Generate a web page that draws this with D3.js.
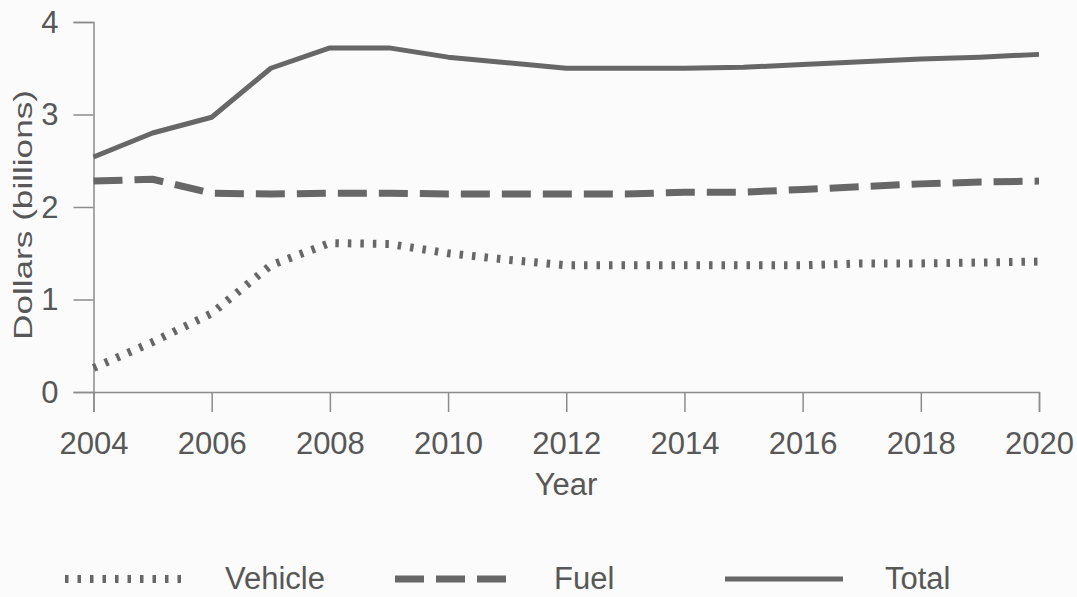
<!DOCTYPE html>
<html>
<head>
<meta charset="utf-8">
<script src="https://cdn.jsdelivr.net/npm/d3@7"></script>
<style>
  html, body { margin: 0; padding: 0; background: #fbfbfb; }
  svg { display: block; }
  text { font-family: "Liberation Sans", Arial, sans-serif; fill: #575757; }
</style>
</head>
<body>
<svg id="chart" width="1077" height="597"></svg>
<script>
const years = [2004,2005,2006,2007,2008,2009,2010,2011,2012,2013,2014,2015,2016,2017,2018,2019,2020];
const vehicle = [0.26,0.54,0.85,1.37,1.61,1.60,1.50,1.43,1.37,1.37,1.37,1.37,1.37,1.39,1.39,1.40,1.41];
const fuel    = [2.28,2.30,2.15,2.14,2.15,2.15,2.14,2.14,2.14,2.14,2.16,2.16,2.19,2.22,2.25,2.27,2.28];
const total   = [2.54,2.80,2.97,3.50,3.72,3.72,3.62,3.56,3.50,3.50,3.50,3.51,3.54,3.57,3.60,3.62,3.65];
const xTicks = [2004,2006,2008,2010,2012,2014,2016,2018,2020];
const yTicks = [0,1,2,3,4];
const seriesNames = ["Vehicle","Fuel","Total"];

const svg = d3.select("#chart");
const x = d3.scaleLinear().domain([2004, 2020]).range([93.5, 1039]);
const y = d3.scaleLinear().domain([0, 4]).range([392, 22]);
const ink = "#676767";
const axisCol = "#8c8c8c";
const txt = "#575757";

// x axis
const xa = svg.append("g").attr("transform", "translate(0,392)")
  .call(d3.axisBottom(x).tickValues(xTicks).tickFormat(d3.format("d")).tickSize(20).tickPadding(20));
xa.select(".domain").attr("stroke", axisCol).attr("stroke-width", 1.5);
xa.selectAll(".tick line").attr("stroke", axisCol).attr("stroke-width", 1.5);
xa.selectAll(".tick text").attr("font-size", 31).attr("fill", txt)
  .attr("font-family", "Liberation Sans, Arial, sans-serif").attr("dy", "0").attr("y", 62);

// y axis
const ya = svg.append("g").attr("transform", "translate(93.5,0)")
  .call(d3.axisLeft(y).tickValues(yTicks).tickFormat(d3.format("d")).tickSize(20).tickPadding(15));
ya.select(".domain").attr("stroke", axisCol).attr("stroke-width", 1.5);
ya.selectAll(".tick line").attr("stroke", axisCol).attr("stroke-width", 1.5);
ya.selectAll(".tick text").attr("font-size", 31).attr("fill", txt)
  .attr("font-family", "Liberation Sans, Arial, sans-serif").attr("dy", "0.33em");

// axis titles
svg.append("text").attr("x", 566).attr("y", 495).attr("text-anchor", "middle")
  .attr("font-size", 31).text("Year");
svg.append("text").attr("transform", "translate(32,215) rotate(-90)")
  .attr("text-anchor", "middle").attr("font-size", 26)
  .attr("textLength", 250).attr("lengthAdjust", "spacingAndGlyphs")
  .text("Dollars (billions)");

const styles = {
  Vehicle: { w: 8, dash: "3.5,9" },
  Fuel: { w: 7, dash: "29,12" },
  Total: { w: 5, dash: null }
};
const data = { Vehicle: vehicle, Fuel: fuel, Total: total };

const line = d3.line().x((d, i) => x(years[i])).y(d => y(d));
seriesNames.forEach(name => {
  const p = svg.append("path").datum(data[name])
    .attr("fill", "none").attr("stroke", ink)
    .attr("stroke-width", styles[name].w)
    .attr("stroke-linejoin", "round")
    .attr("d", line);
  if (styles[name].dash) p.attr("stroke-dasharray", styles[name].dash);
});

// legend
const legendItems = [
  { name: "Vehicle", x0: 65, x1: 182, tx: 225 },
  { name: "Fuel", x0: 395, x1: 512, tx: 554 },
  { name: "Total", x0: 725, x1: 843, tx: 885 }
];
const lg = svg.append("g");
legendItems.forEach(it => {
  const l = lg.append("line").attr("x1", it.x0).attr("x2", it.x1)
    .attr("y1", 579).attr("y2", 579)
    .attr("stroke", ink).attr("stroke-width", styles[it.name].w);
  if (styles[it.name].dash) l.attr("stroke-dasharray", styles[it.name].dash);
  lg.append("text").attr("x", it.tx).attr("y", 589).attr("font-size", 31).text(it.name);
});
</script>
</body>
</html>
